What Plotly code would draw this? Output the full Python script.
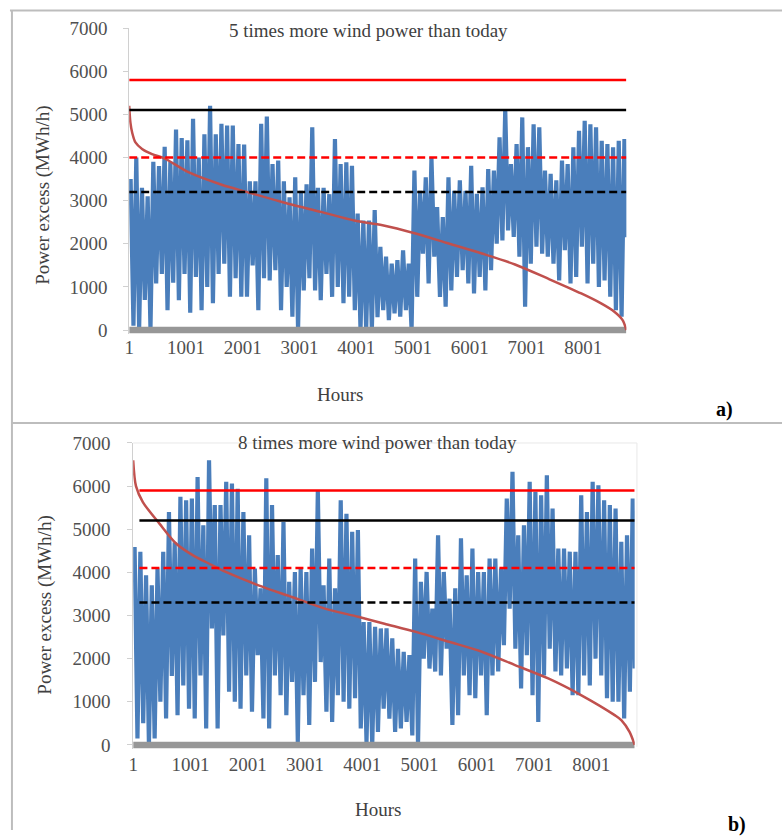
import plotly.graph_objects as go

# ---------------- data ----------------
hour_ticks = [1, 1001, 2001, 3001, 4001, 5001, 6001, 7001, 8001]
value_ticks = [0, 1000, 2000, 3000, 4000, 5000, 6000, 7000]
bin_hours = 100          # one peak and one trough per 100-hour block
n_hours = 8760

# Panel a: 5 times more wind power than today
peaks_a = [3500, 4000, 3300, 3100, 3900, 3800, 4250, 3900, 4650, 4450,
           4400, 4900, 4000, 4540, 5200, 4540, 4780, 4740, 4740, 4310,
           4300, 3450, 3450, 4780, 4950, 3850, 3930, 3450, 3080, 3540,
           3230, 3380, 4700, 3300, 3300, 3150, 4430, 3850, 3890, 3810,
           2700, 2540, 2540, 2780, 1930, 1700, 1540, 1620, 1850, 1540,
           3700, 3230, 3540, 4000, 2850, 2620, 3540, 3230, 3470, 3230,
           3810, 3160, 3310, 3730, 3700, 4470, 5120, 3850, 4310, 4930,
           4240, 4770, 4700, 3700, 3620, 3470, 3930, 3850, 4240, 4620,
           4850, 4770, 4700, 4390, 4310, 4240, 4390, 4430]
troughs_a = [100, 0, 700, 0, 1080, 1300, 460, 1100, 690, 1300,
             400, 1230, 460, 1000, 620, 1300, 1540, 770, 1200, 770,
             770, 1500, 460, 1200, 1150, 1390, 460, 1000, 310, 0,
             920, 1200, 920, 690, 1300, 770, 1000, 620, 770, 460,
             0, 0, 0, 300, 460, 230, 385, 310, 460, 0,
             770, 1770, 1080, 1700, 770, 540, 920, 1230, 1390, 1080,
             850, 1230, 920, 1390, 2000, 2080, 2310, 2160, 1700, 540,
             1540, 1930, 1770, 1700, 1540, 1150, 1850, 1080, 1230, 1930,
             1080, 1540, 1000, 1150, 770, 460, 310, 2150]
duration_hours_a = [1, 23, 53, 111, 228, 403, 637, 1045, 1630, 2050, 2800, 3380,
                    3965, 4464, 5047, 5631, 6214, 6798, 7382, 7965, 8315, 8548,
                    8694, 8760]
duration_a = [5200, 4800, 4580, 4350, 4200, 4080, 3970, 3660, 3370, 3210, 2930, 2740,
              2540, 2430, 2237, 2005, 1774, 1520, 1190, 848, 617, 424,
              231, 0]
levels_a = [5800, 5100, 4000, 3200]
level_start_a = 1

# Panel b: 8 times more wind power than today
peaks_b = [4590, 4480, 3930, 3700, 4090, 4480, 5400, 4700, 5750, 5670,
           5710, 6210, 5090, 6600, 5560, 5560, 6100, 6060, 5940, 5400,
           4860, 4090, 3630, 6180, 5560, 4400, 5170, 3780, 4010, 4090,
           4010, 4550, 5900, 3700, 4320, 3630, 5670, 5360, 4940, 4980,
           2850, 2850, 2740, 2700, 2700, 2470, 2230, 2160, 2080, 4320,
           3780, 4010, 3160, 4860, 4010, 3390, 3630, 4790, 3930, 4550,
           4010, 4010, 4320, 4320, 4090, 5710, 6330, 4860, 5090, 6100,
           5870, 5790, 6250, 5480, 4550, 4550, 4480, 4480, 5790, 5400,
           6100, 6020, 5670, 5560, 5480, 4710, 4860, 5710]
troughs_b = [150, 500, 0, 150, 1000, 610, 1600, 690, 1380, 840,
             610, 1610, 380, 2700, 380, 2540, 1230, 1000, 840, 1610,
             770, 2080, 610, 380, 1610, 1150, 690, 1460, 70, 1150,
             460, 1460, 1920, 770, 530, 1150, 1000, 840, 1080, 380,
             70, 0, 300, 840, 610, 300, 380, 530, 220, 0,
             2000, 1770, 1700, 1610, 2230, 460, 690, 1610, 1150, 1080,
             1610, 690, 1610, 1700, 2310, 3160, 2230, 1310, 2080, 1150,
             530, 1610, 2230, 1700, 1610, 1770, 1150, 1150, 1610, 1380,
             2000, 1610, 1080, 1000, 1000, 610, 1230, 1770]
duration_hours_b = [1, 50, 170, 460, 750, 1040, 1330, 1620, 2190, 2770, 3350,
                    3930, 4390, 4940, 5520, 6090, 6670, 7250, 7830, 8410,
                    8530, 8670, 8760]
duration_b = [6600, 6000, 5630, 5130, 4670, 4400, 4200, 4010, 3700, 3430, 3160,
              2970, 2810, 2620, 2390, 2160, 1850, 1540, 1150, 690,
              570, 300, 0]
levels_b = [5900, 5200, 4100, 3300]
level_start_b = 110

titles = ["5 times more wind power than today", "8 times more wind power than today"]
panel_tags = ["a)", "b)"]
y_title = "Power excess (MWh/h)"
x_title = "Hours"

# ---------------- styling / geometry ----------------
W, H = 782, 836
FONT = "Liberation Serif, Times New Roman, serif"
TXT = "#404040"
BLUE = "#4A7EBB"
level_styles = [("#FF0000", "solid"), ("#000000", "solid"),
                ("#FF0000", "8px,4px"), ("#000000", "8px,4px")]

# the photographed page shows the figure shifted down by ~8px and scaled by 836/852
# vertically; target positions (in reference pixels) are mapped through the inverse.
V_SCALE = 836 / 852
V_OFF = 8


def fx(px):
    return px / W


def fy(py):
    fig_py = py / V_SCALE - V_OFF
    fig_py = min(max(fig_py, 0.5), H - 0.5)
    return 1 - fig_py / H


def zigzag(peaks, troughs):
    xs, ys = [], []
    for k, (p, t) in enumerate(zip(peaks, troughs)):
        xs += [min(1 + k * bin_hours + 25, n_hours), min(1 + k * bin_hours + 75, n_hours)]
        ys += [p, t]
    return xs, ys


fig = go.Figure()

panels = [
    dict(peaks=peaks_a, troughs=troughs_a, dh=duration_hours_a, dv=duration_a,
         levels=levels_a, lstart=level_start_a, xa="x", ya="y"),
    dict(peaks=peaks_b, troughs=troughs_b, dh=duration_hours_b, dv=duration_b,
         levels=levels_b, lstart=level_start_b, xa="x2", ya="y2"),
]

for p in panels:
    bx, by = zigzag(p["peaks"], p["troughs"])
    fig.add_trace(go.Scatter(x=bx, y=by, mode="lines", xaxis=p["xa"], yaxis=p["ya"],
                             line=dict(color=BLUE, width=4.2), showlegend=False))
    fig.add_trace(go.Scatter(x=[1, n_hours], y=[0, 0], mode="lines", xaxis=p["xa"], yaxis=p["ya"],
                             line=dict(color="#979797", width=6.5), showlegend=False))
    fig.add_trace(go.Scatter(x=p["dh"], y=p["dv"], mode="lines", xaxis=p["xa"], yaxis=p["ya"],
                             line=dict(color="#C0504D", width=2.5, shape="spline", smoothing=0.8),
                             showlegend=False))
    for lv, (col, dash) in zip(p["levels"], level_styles):
        fig.add_trace(go.Scatter(x=[p["lstart"], n_hours], y=[lv, lv], mode="lines",
                                 xaxis=p["xa"], yaxis=p["ya"],
                                 line=dict(color=col, width=2.5, dash=dash), showlegend=False))

tickfont = dict(family=FONT, size=19, color="#505050")
common_x = dict(range=[1, n_hours], tickvals=hour_ticks, ticktext=[str(t) for t in hour_ticks],
                showgrid=False, zeroline=False, showline=False, ticks="", tickfont=tickfont)
common_y = dict(tickvals=value_ticks, showgrid=False, zeroline=False, showline=True,
                linecolor="#D0D0D0", linewidth=1, ticks="outside", ticklen=5,
                tickcolor="#D0D0D0", tickfont=tickfont)

# panel a (reference px): hour 1 at 125, 8001 at 582; value 0 at 328, 7000 at 26
a_x1 = 125 + (n_hours - 1) * (582 - 125) / 8000
a_scale = (328 - 26) / 7000
# panel b (reference px): hour 1 at 129, 8001 at 590; value 0 at 743, 7000 at 441
b_x1 = 129 + (n_hours - 1) * (590 - 129) / 8000
b_scale = (743 - 441) / 7000

fig.update_layout(
    width=W, height=H, margin=dict(l=0, r=0, t=0, b=0),
    paper_bgcolor="white", plot_bgcolor="rgba(0,0,0,0)",
    xaxis=dict(common_x, domain=[fx(125), fx(a_x1)], anchor="y", ticklabelstandoff=0),
    yaxis=dict(common_y, domain=[fy(328 + 100 * a_scale), fy(26)], range=[-100, 7000],
               anchor="x", ticklabelstandoff=12),
    xaxis2=dict(common_x, domain=[fx(129), fx(b_x1)], anchor="y2", ticklabelstandoff=2),
    yaxis2=dict(common_y, domain=[fy(743 + 100 * b_scale), fy(441)], range=[-100, 7000],
                anchor="x2", ticklabelstandoff=13),
)

ann = []
ann.append(dict(x=fx(366), y=fy(28), text=titles[0]))
ann.append(dict(x=fx(375), y=fy(441), text=titles[1]))
ann.append(dict(x=fx(38), y=fy(193), text=y_title, textangle=-90))
ann.append(dict(x=fx(40), y=fy(603), text=y_title, textangle=-90))
ann.append(dict(x=fx(337), y=fy(392), text=x_title))
ann.append(dict(x=fx(375), y=fy(808), text=x_title))
for a in ann:
    a.update(xref="paper", yref="paper", showarrow=False, xanchor="center", yanchor="middle",
             font=dict(family=FONT, size=19, color=TXT))
for tag, (px, py) in zip(panel_tags, [(724, 407), (737, 823)]):
    ann.append(dict(x=fx(px), y=fy(py), text="<b>" + tag + "</b>", xref="paper", yref="paper",
                    showarrow=False, xanchor="center", yanchor="middle",
                    font=dict(family=FONT, size=20, color="#000000")))
fig.update_layout(annotations=ann)

border = dict(color="#BDBDBD", width=2)
shapes = [
    dict(type="line", xref="paper", yref="paper", x0=fx(5), x1=1, y0=fy(6), y1=fy(6), line=border),
    dict(type="line", xref="paper", yref="paper", x0=fx(7), x1=fx(7), y0=fy(5), y1=0, line=border),
    dict(type="line", xref="paper", yref="paper", x0=fx(7), x1=1, y0=fy(421), y1=fy(421), line=border),
    # faint plot-area frame of panel b
    dict(type="line", xref="paper", yref="paper", x0=fx(129), x1=fx(636), y0=fy(441), y1=fy(441),
         line=dict(color="#E8E8E8", width=1)),
    dict(type="line", xref="paper", yref="paper", x0=fx(636), x1=fx(636), y0=fy(441), y1=fy(745),
         line=dict(color="#E8E8E8", width=1)),
]
fig.update_layout(shapes=shapes)

fig.write_html("out.html")
